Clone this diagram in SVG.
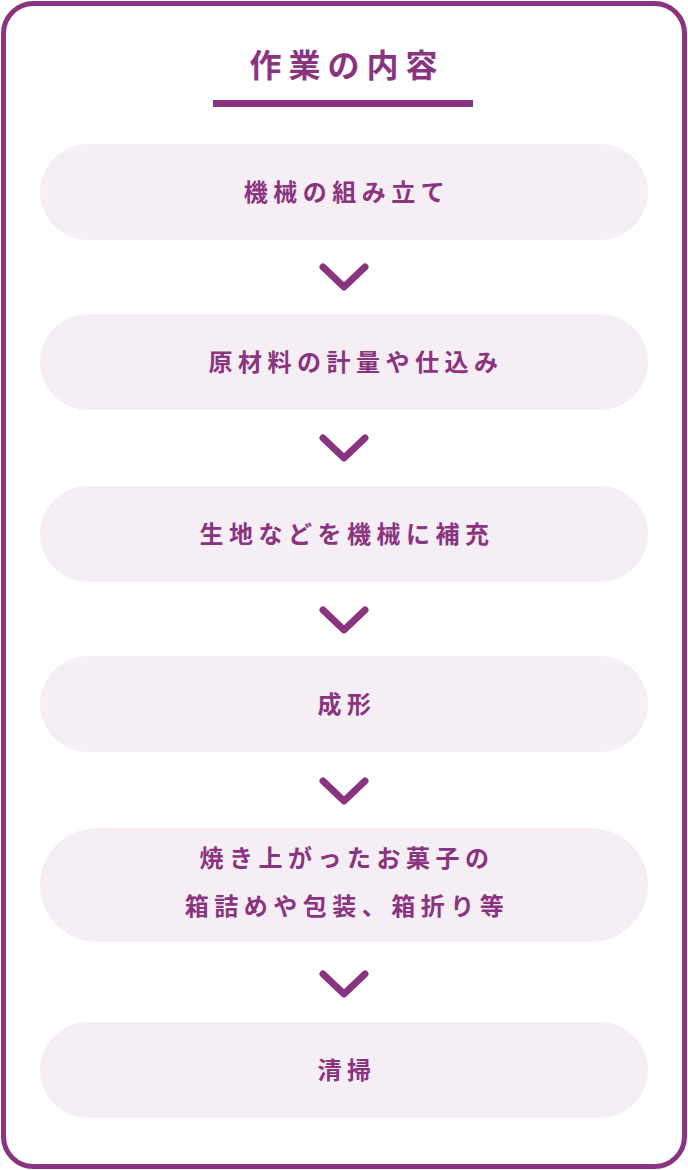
<svg xmlns="http://www.w3.org/2000/svg" width="688" height="1170" viewBox="0 0 688 1170">
<style>
.p{fill:#f6eef5}
.t{font-family:"Noto Sans CJK JP",sans-serif;font-weight:700;fill:#8a3480;font-size:24px;letter-spacing:5.5px;text-anchor:middle}
.c{fill:none;stroke:#8a3480;stroke-width:7;stroke-linecap:round;stroke-linejoin:round}
</style>
<rect x="3.5" y="3.5" width="681" height="1163" rx="30" fill="#fff" stroke="#8a3480" stroke-width="5"/>
<g id="title"><text x="347" y="77" class="t" style="font-size:32px;letter-spacing:7px">作業の内容</text>
<rect x="213" y="100" width="260" height="7" fill="#8a3480"/></g>
<g id="n1"><rect class="p" x="40" y="144" width="608" height="96" rx="48"/><text class="t" x="347" y="201">機械の組み立て</text></g>
<g id="n2"><rect class="p" x="40" y="314" width="608" height="96" rx="48"/><text class="t" x="356" y="371">原材料の計量や仕込み</text></g>
<g id="n3"><rect class="p" x="40" y="486" width="608" height="96" rx="48"/><text class="t" x="347" y="543">生地などを機械に補充</text></g>
<g id="n4"><rect class="p" x="40" y="656" width="608" height="96" rx="48"/><text class="t" x="347" y="713">成形</text></g>
<g id="n5"><rect class="p" x="40" y="828" width="608" height="114" rx="57"/><text class="t" x="347" y="867">焼き上がったお菓子の</text><text class="t" x="347" y="915">箱詰めや包装、箱折り等</text></g>
<g id="n6"><rect class="p" x="40" y="1022" width="608" height="96" rx="48"/><text class="t" x="347" y="1079">清掃</text></g>
<g id="connectors">
<path class="c" d="M323 267L344 287L365 267"/>
<path class="c" d="M323 438L344 458L365 438"/>
<path class="c" d="M323 610L344 630L365 610"/>
<path class="c" d="M323 781L344 801L365 781"/>
<path class="c" d="M323 974L344 994L365 974"/>
</g>
</svg>
